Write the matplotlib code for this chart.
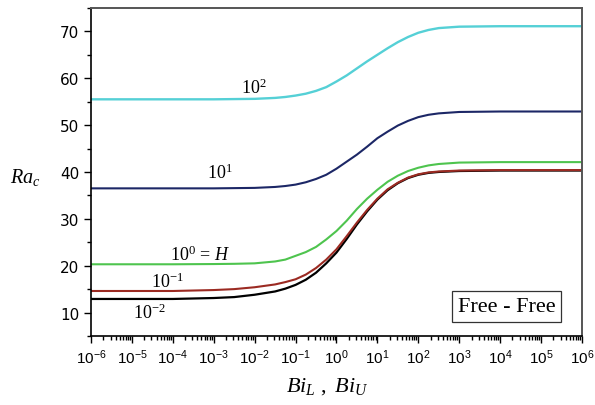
import numpy as np
import matplotlib
matplotlib.use("Agg")
import matplotlib.pyplot as plt
from matplotlib.ticker import LogLocator, FixedLocator, NullFormatter

plt.rcParams['mathtext.fontset'] = 'custom'
plt.rcParams['mathtext.rm'] = 'Liberation Serif'
plt.rcParams['mathtext.it'] = 'Liberation Serif:italic'
plt.rcParams['mathtext.sf'] = 'Liberation Sans'

log_bi = [-6, -5, -4, -3, -2.5, -2, -1.5, -1.25, -1, -0.75, -0.5, -0.25, 0,
          0.25, 0.5, 0.75, 1, 1.25, 1.5, 1.75, 2, 2.25, 2.5, 3, 4, 5, 6]

# critical Rayleigh number for each value of the parameter
ra_1e2 = [55.5, 55.5, 55.5, 55.5, 55.55, 55.6, 55.8, 56.0, 56.3, 56.7, 57.3, 58.1, 59.3,
          60.6, 62.1, 63.6, 65.0, 66.4, 67.7, 68.8, 69.7, 70.3, 70.7, 71.0, 71.1, 71.1, 71.1]
ra_1e1 = [36.5, 36.5, 36.5, 36.5, 36.55, 36.6, 36.8, 37.0, 37.3, 37.8, 38.5, 39.4, 40.7,
          42.2, 43.7, 45.4, 47.2, 48.6, 49.9, 50.9, 51.7, 52.2, 52.5, 52.8, 52.9, 52.9, 52.9]
ra_1e0 = [20.3, 20.3, 20.3, 20.35, 20.4, 20.5, 20.9, 21.3, 22.1, 22.9, 24.0, 25.6, 27.4,
          29.6, 32.1, 34.3, 36.2, 37.9, 39.2, 40.2, 40.9, 41.4, 41.7, 42.0, 42.1, 42.1, 42.1]
ra_1em1 = [14.6, 14.6, 14.6, 14.8, 15.0, 15.4, 16.0, 16.5, 17.1, 18.1, 19.5, 21.3, 23.5,
           26.3, 29.2, 31.9, 34.3, 36.3, 37.7, 38.8, 39.5, 39.9, 40.1, 40.3, 40.4, 40.4, 40.4]
ra_1em2 = [12.9, 12.9, 12.9, 13.1, 13.3, 13.8, 14.5, 15.1, 15.9, 17.0, 18.5, 20.5, 22.8,
           25.7, 28.8, 31.6, 34.1, 36.1, 37.6, 38.7, 39.4, 39.8, 40.0, 40.2, 40.3, 40.3, 40.3]

bi = 10.0 ** np.array(log_bi)

fig = plt.figure(figsize=(5.95, 4.06), dpi=100)
ax = fig.add_axes([0.153, 0.170, 0.825, 0.808])

ax.plot(bi, ra_1em2, color='black', lw=1.6)
ax.plot(bi, ra_1em1, color='#9b2a22', lw=1.5)
ax.plot(bi, ra_1e0, color='#4ec44e', lw=1.5)
ax.plot(bi, ra_1e1, color='#1c2766', lw=1.5)
ax.plot(bi, ra_1e2, color='#55d0d6', lw=1.7)

# curve labels
lab = dict(fontsize=13, ha='center', va='center')
ax.text(10**-2.02, 58.0, r'$10^{2}$', **lab)
ax.text(10**-2.85, 39.9, r'$10^{1}$', **lab)
ax.text(10**-3.34, 22.4, r'$10^{0}\,=\,H$', **lab)
ax.text(10**-4.14, 16.6, r'$10^{-1}$', **lab)
ax.text(10**-4.58, 10.0, r'$10^{-2}$', **lab)

ax.text(0.846, 0.09, 'Free - Free', transform=ax.transAxes, ha='center', va='center',
        family='Liberation Serif', fontsize=16,
        bbox=dict(boxstyle='square,pad=0.25', fc='white', ec='#333333', lw=0.9))

ax.set_xscale('log')
ax.set_xlim(1e-6, 1e6)
ax.set_ylim(5, 75)

decades = np.arange(-6, 7)
ax.xaxis.set_major_locator(FixedLocator(10.0 ** decades))
ax.set_xticklabels([r'$\mathsf{10^{%d}}$' % d for d in decades])
ax.xaxis.set_minor_locator(LogLocator(base=10, subs=np.arange(2, 10), numticks=100))
ax.xaxis.set_minor_formatter(NullFormatter())

ax.set_yticks([10, 20, 30, 40, 50, 60, 70])
ax.set_yticks([5, 15, 25, 35, 45, 55, 65, 75], minor=True)

ax.tick_params(which='both', direction='out', top=False, right=False, width=1.0)
ax.tick_params(axis='x', labelsize=11)
ax.tick_params(axis='y', labelsize=11)
ax.tick_params(which='major', length=5)
ax.tick_params(which='minor', length=3)
for t in ax.get_yticklabels():
    t.set_family('DejaVu Sans')

for side in ['left', 'bottom']:
    ax.spines[side].set_color('black')
    ax.spines[side].set_linewidth(1.2)
for side in ['top', 'right']:
    ax.spines[side].set_color('#555555')
    ax.spines[side].set_linewidth(1.4)

fig.text(0.042, 0.562, r'$Ra_{c}$', fontsize=14.5, ha='center', va='center')
fig.text(0.55, 0.048, r'$Bi_{L}\ ,\ Bi_{U}$', fontsize=16, ha='center', va='center')

fig.savefig('out.png', dpi=100)
